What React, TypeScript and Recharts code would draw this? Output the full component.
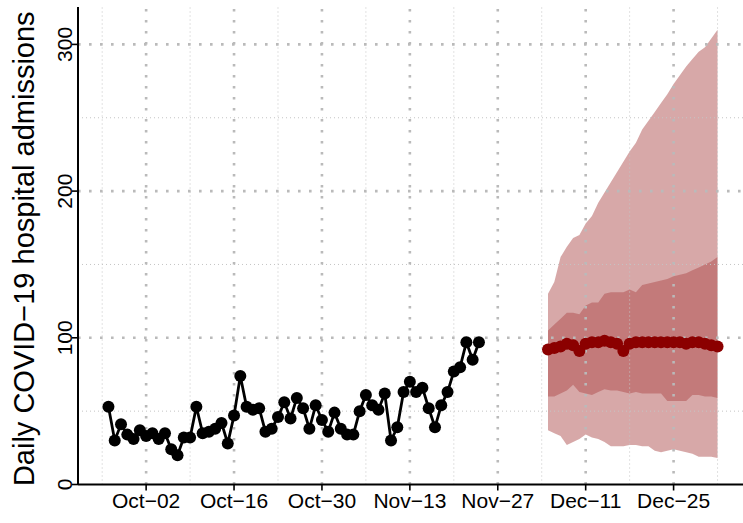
import React from 'react';
import { ComposedChart, Line, Area, XAxis, YAxis, ReferenceLine } from 'recharts';

// days are counted from Sep-26
const observedStartDay = 0;
const observed = [
  53, 30, 41, 34, 31, 37, 33, 35, 31, 35,
  24, 20, 32, 32, 53, 35, 36, 38, 42, 28,
  47, 74, 53, 51, 52, 36, 38, 46, 56, 45,
  59, 52, 38, 54, 44, 36, 49, 38, 34, 34,
  50, 61, 54, 51, 62, 30, 39, 63, 70, 63,
  66, 52, 39, 54, 63, 77, 80, 97, 85, 97,
];

// forecast starts Dec-05
const forecastStartDay = 70;
const fcMean = [92, 93, 94, 96, 95, 91, 96, 97, 97, 98, 97, 96, 91, 96, 97, 97, 97, 97, 97, 97, 97, 97, 96, 97, 97, 96, 95, 94];
const fcInnerLow = [60, 60, 62, 64, 68, 63, 62, 61, 63, 65, 64, 64, 63, 62, 63, 62, 62, 62, 62, 57, 57, 57, 57, 61, 61, 60, 60, 59];
const fcInnerHigh = [105, 109, 113, 117, 117, 116, 122, 124, 124, 130, 131, 131, 131, 133, 131, 136, 137, 138, 139, 140, 142, 143, 144, 146, 148, 150, 152, 155];
const fcOuterLow = [37, 35, 33, 27, 29, 31, 34, 32, 31, 29, 26, 26, 26, 27, 27, 26, 26, 23, 22, 23, 24, 23, 22, 21, 19, 19, 19, 18];
const fcOuterHigh = [130, 138, 155, 162, 168, 170, 178, 183, 192, 199, 206, 213, 220, 227, 233, 242, 248, 254, 260, 266, 273, 279, 285, 290, 295, 298, 304, 310];

const xMajorDays = [6, 20, 34, 48, 62, 76, 90];
const xMajorLabels = ['Oct−02', 'Oct−16', 'Oct−30', 'Nov−13', 'Nov−27', 'Dec−11', 'Dec−25'];
const xMinorDays = [-1, 13, 27, 41, 55, 69, 83, 97];
const yTicks = [0, 100, 200, 300];
const yMajorGrid = [100, 200, 300];
const yMinorGrid = [50, 150, 250];

const FONT = '"Liberation Sans", Arial, Helvetica, sans-serif';
const DARKRED = '#8B0000';

type Row = {
  day: number;
  obs?: number;
  mean?: number;
  inner?: [number, number];
  outer?: [number, number];
};

const rows: Row[] = [];
observed.forEach((v, i) => rows.push({ day: observedStartDay + i, obs: v }));
fcMean.forEach((v, i) =>
  rows.push({
    day: forecastStartDay + i,
    mean: v,
    inner: [fcInnerLow[i], fcInnerHigh[i]],
    outer: [fcOuterLow[i], fcOuterHigh[i]],
  })
);

const YTick = (props: any) => {
  const { x, y, payload } = props;
  const bx = x + 2;
  return (
    <text x={bx} y={y} transform={`rotate(-90, ${bx}, ${y})`} textAnchor="middle" fontSize={21} fill="#000" fontFamily={FONT}>
      {payload.value}
    </text>
  );
};

const XTick = (props: any) => {
  const { x, y, payload } = props;
  const idx = xMajorDays.indexOf(payload.value);
  return (
    <text x={x} y={y} dy="0.74em" textAnchor="middle" fontSize={21} fill="#000" fontFamily={FONT}>
      {idx >= 0 ? xMajorLabels[idx] : ''}
    </text>
  );
};

const YTitle = (props: any) => {
  const vb = props.viewBox;
  const cx = 34;
  const cy = vb.y + vb.height / 2 + 3;
  return (
    <text x={cx} y={cy} transform={`rotate(-90, ${cx}, ${cy})`} textAnchor="middle" fontSize={29} fill="#000" fontFamily={FONT}>
      Daily COVID−19 hospital admissions
    </text>
  );
};

export default function App() {
  return (
    <div style={{ position: 'absolute', left: 0, top: 0, width: 743, height: 523, overflow: 'hidden', background: '#fff' }}>
      <ComposedChart width={748} height={523} data={rows} margin={{ top: 7, right: 0, bottom: 0, left: 0 }}>
        <XAxis
          dataKey="day"
          type="number"
          domain={[-4.85, 101.85]}
          allowDataOverflow
          ticks={xMajorDays}
          height={38.5}
          tick={<XTick />}
          tickSize={6}
          tickLine={{ stroke: '#000', strokeWidth: 1.6 }}
          axisLine={{ stroke: '#000', strokeWidth: 2 }}
        />
        <YAxis
          type="number"
          domain={[0, 325.5]}
          allowDataOverflow
          ticks={yTicks}
          width={78}
          tick={<YTick />}
          tickSize={6}
          tickLine={{ stroke: '#000', strokeWidth: 1.6 }}
          axisLine={{ stroke: '#000', strokeWidth: 2 }}
          label={<YTitle />}
        />
        {yMinorGrid.map((v) => (
          <ReferenceLine key={'ym' + v} y={v} stroke="#c4c4c4" strokeWidth={1} strokeDasharray="1 3" />
        ))}
        {xMinorDays.map((d) => (
          <ReferenceLine key={'xm' + d} x={d} stroke="#c4c4c4" strokeWidth={1} strokeDasharray="1 3" />
        ))}
        {yMajorGrid.map((v) => (
          <ReferenceLine key={'yM' + v} y={v} stroke="#bababa" strokeWidth={2.6} strokeDasharray="2.6 8.4" />
        ))}
        {xMajorDays.map((d) => (
          <ReferenceLine key={'xM' + d} x={d} stroke="#bababa" strokeWidth={2.6} strokeDasharray="2.6 8.4" />
        ))}
        <Area dataKey="outer" type="linear" stroke="none" fill={DARKRED} fillOpacity={0.34} dot={false} activeDot={false} isAnimationActive={false} />
        <Area dataKey="inner" type="linear" stroke="none" fill={DARKRED} fillOpacity={0.27} dot={false} activeDot={false} isAnimationActive={false} />
        <Line
          dataKey="obs"
          type="linear"
          stroke="#000"
          strokeWidth={2.8}
          dot={{ r: 6, fill: '#000', stroke: 'none' }}
          activeDot={false}
          isAnimationActive={false}
        />
        <Line
          dataKey="mean"
          type="linear"
          stroke={DARKRED}
          strokeWidth={2.8}
          dot={{ r: 6, fill: DARKRED, stroke: 'none' }}
          activeDot={false}
          isAnimationActive={false}
        />
      </ComposedChart>
    </div>
  );
}
